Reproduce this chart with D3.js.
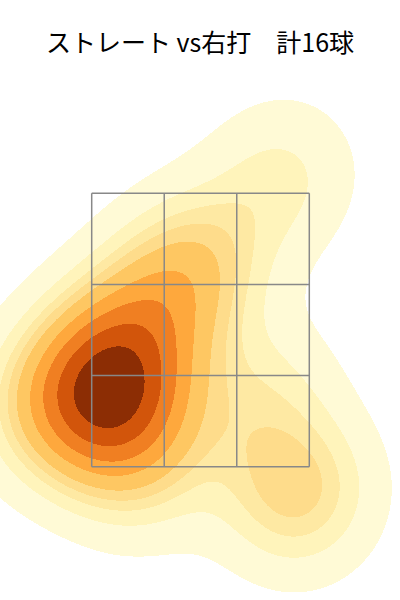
<!DOCTYPE html>
<html><head><meta charset="utf-8">
<script src="https://cdn.jsdelivr.net/npm/d3@7"></script>
<style>body{margin:0;background:#fff}svg{display:block}</style>
</head><body><svg id="c" width="400" height="600"></svg>
<script>
const title = "ストレート vs右打　計16球";
const plateX = [-0.80, -0.65, -0.75, -0.58, -0.88, -0.68, -0.54, -0.35, -0.19, 0.03, 0.61, 0.45, 0.64, 0.81, -1.21, -0.39];
const plateZ = [2.17, 1.99, 1.78, 2.21, 2.03, 2.37, 1.92, 2.65, 2.83, 3.05, 3.61, 2.02, 1.40, 1.24, 1.95, 1.49];
const zoneX = [-0.83, 0.83];
const zoneZ = [1.5, 3.5];
const isoProps = d3.range(10).map(i => 0.05 + i * 0.95 / 9);
const bandColors = ["#fffad6", "#fff4bb", "#fee9a3", "#fedc8b", "#fec762", "#fea83d", "#f07f22", "#d2550b", "#8c2d04"];

const W = 400, H = 600;
const svg = d3.select("#c");
const x = d3.scaleLinear().domain(zoneX).range([91.7, 309.3]);
const y = d3.scaleLinear().domain(zoneZ).range([466.7, 193.3]);
const pts = plateX.map((v, i) => [x(v), y(plateZ[i])]);

// Gaussian KDE (Scott's rule, full covariance)
const n = pts.length;
const mx = d3.mean(pts, d => d[0]), my = d3.mean(pts, d => d[1]);
let sxx = 0, syy = 0, sxy = 0;
pts.forEach(([a, b]) => { sxx += (a - mx) ** 2; syy += (b - my) ** 2; sxy += (a - mx) * (b - my); });
const f2 = Math.pow(n, -1 / 3);
const cxx = sxx / (n - 1) * f2, cyy = syy / (n - 1) * f2, cxy = sxy / (n - 1) * f2;
const det = cxx * cyy - cxy * cxy;
const ixx = cyy / det, iyy = cxx / det, ixy = -cxy / det;
const norm = 1 / (2 * Math.PI * Math.sqrt(det) * n);

const cell = 2, x0 = -200, y0 = -200;
const nx = Math.round((W + 400) / cell), ny = Math.round((H + 400) / cell);
const grid = new Float64Array(nx * ny);
for (let j = 0; j < ny; j++) {
  const gy = y0 + j * cell;
  for (let i = 0; i < nx; i++) {
    const gx = x0 + i * cell;
    let s = 0;
    for (let k = 0; k < n; k++) {
      const dx = gx - pts[k][0], dy = gy - pts[k][1];
      s += Math.exp(-0.5 * (ixx * dx * dx + 2 * ixy * dx * dy + iyy * dy * dy));
    }
    grid[j * nx + i] = s * norm;
  }
}
// highest-density-region levels
const sorted = Array.from(grid).sort((a, b) => b - a);
const total = d3.sum(sorted);
const cum = []; let acc = 0;
for (const v of sorted) { acc += v; cum.push(acc / total); }
const levels = isoProps.map(p => sorted[Math.min(d3.bisectLeft(cum, 1 - p), sorted.length - 1)]);

const contours = d3.contours().size([nx, ny]).thresholds(levels.slice(0, 9))(grid);
const path = d3.geoPath(d3.geoIdentity().scale(cell).translate([x0 - cell / 2, y0 - cell / 2]));
svg.append("g").selectAll("path").data(contours).join("path")
  .attr("d", path).attr("fill", (d, i) => bandColors[i]).attr("shape-rendering", "crispEdges");

// strike zone grid
const g = svg.append("g").attr("stroke", "#888").attr("stroke-width", 1.5).attr("fill", "none");
const xs = d3.range(4).map(i => x(zoneX[0] + i * (zoneX[1] - zoneX[0]) / 3));
const ys = d3.range(4).map(i => y(zoneZ[0] + i * (zoneZ[1] - zoneZ[0]) / 3));
xs.forEach(v => g.append("line").attr("x1", v).attr("x2", v).attr("y1", ys[0]).attr("y2", ys[3]));
ys.forEach(v => g.append("line").attr("y1", v).attr("y2", v).attr("x1", xs[0]).attr("x2", xs[3]));

svg.append("text").attr("x", 200).attr("y", 52).attr("text-anchor", "middle")
  .attr("font-family", "'Noto Sans CJK JP', sans-serif").attr("font-size", 25).attr("fill", "#000").text(title);
</script></body></html>
